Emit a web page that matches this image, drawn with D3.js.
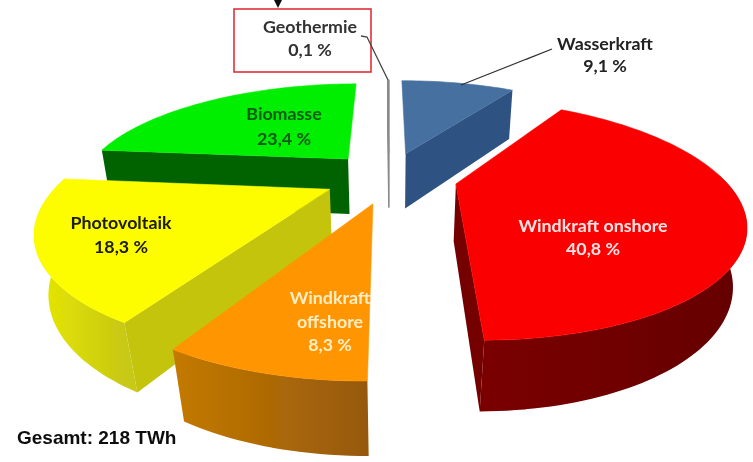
<!DOCTYPE html>
<html><head><meta charset="utf-8">
<script src="https://cdn.jsdelivr.net/npm/d3@7"></script>
<style>html,body{margin:0;padding:0;background:#fff}svg{display:block}</style>
</head><body><svg id="c" width="753" height="462"></svg>
<script>
// data
const names = ["Wasserkraft","Windkraft onshore","Windkraft offshore","Photovoltaik","Biomasse","Geothermie"];
const shares = [9.1,40.8,8.3,18.3,23.4,0.1];
const shareLabels = ["9,1 %","40,8 %","8,3 %","18,3 %","23,4 %","0,1 %"];
const totalLabel = "Gesamt: 218 TWh";
// style
const topCols  = ["#44709f","#fb0000","#ff9500","#fdfd00","#00ee00","#8a8a8a"];
const sideCols = ["#2f5382","#740000","#b06c00","#c4c410","#006400","#8a8a8a"];
const rimFrom  = ["#2f5382","#7a0000","#c47a00","#e8e800","#006400","#8a8a8a"];
const rimTo    = ["#2f5382","#640000","#96590c","#c8c814","#006400","#8a8a8a"];
const explode  = [.243,.23,.243,.243,.243,.243];
const widthK   = [.97,.97,.97,.97,.975,1];
const nudgeX   = [-3,3,0,0,0,-2];
const textCols = ["#222","#fbe3e3","#ffeec4","#1a1a00","#0a5a14","#333"];
const labelLines = [["Wasserkraft"],["Windkraft onshore"],["Windkraft","offshore"],["Photovoltaik"],["Biomasse"],["Geothermie"]];
const labelAt = [[605,50,22],[593,232,23],[330,304,23.5],[121,229,24],[284,120,25],[310,33,23]];

const cx=391, cy=177, f=275, g=106, persp=.29;
const svg=d3.select("#c");
const defs=svg.append("defs");
const soft=defs.append("filter").attr("id","soft").attr("x","-5%").attr("y","-5%").attr("width","110%").attr("height","110%");
soft.append("feGaussianBlur").attr("stdDeviation",.7);
const root=svg.append("g").attr("filter","url(#soft)");

function project(X,Y){const w=1+persp*Y;return {x:cx+f*X/w,y:cy-g*Y/w,w};}
function topPt(p){const t=project(p[0],p[1]);return [t.x,t.y];}
function botPt(p){const t=project(p[0],p[1]);return [cx+(t.x-cx)*(1-.035/t.w),t.y+24+32.7/t.w];}
const pathLine=d3.line();

const arcs=d3.pie().sort(null).startAngle(0).endAngle(2*Math.PI).value((d,i)=>shares[i])(names);
const slices=arcs.map((a,i)=>{
  const mid=(a.startAngle+a.endAngle)/2, e=explode[i];
  const apex=[e*Math.sin(mid),e*Math.cos(mid)];
  const n=Math.max(2,Math.ceil((a.endAngle-a.startAngle)*40));
  const thetas=d3.range(n+1).map(k=>a.startAngle+(a.endAngle-a.startAngle)*k/n);
  const pt=th=>[apex[0]+widthK[i]*Math.sin(th),apex[1]+Math.cos(th)];
  return {i,apex,a,rim:thetas.map(pt),front:thetas.filter(th=>Math.cos(th)<.1).map(pt)};
}).sort((a,b)=>b.apex[1]-a.apex[1]);

slices.forEach(s=>{
  const i=s.i, rimT=s.rim.map(topPt);
  const xs=rimT.map(p=>p[0]), gid="rim"+i;
  const gr=defs.append("linearGradient").attr("id",gid).attr("gradientUnits","userSpaceOnUse")
    .attr("x1",d3.min(xs)).attr("x2",d3.max(xs)).attr("y1",0).attr("y2",0);
  gr.append("stop").attr("offset",0).attr("stop-color",rimFrom[i]);
  gr.append("stop").attr("offset",1).attr("stop-color",rimTo[i]);
  const G=root.append("g").attr("transform",`translate(${nudgeX[i]},0)`);
  // side walls facing the viewer only (the thin Geothermie sliver keeps both)
  const walls=[];
  if(Math.sin(s.a.startAngle)<0||i===5) walls.push(s.rim[0]);
  if(Math.sin(s.a.endAngle)>1e-6||i===5) walls.push(s.rim[s.rim.length-1]);
  walls.forEach(end=>{
    const q=[topPt(s.apex),topPt(end),botPt(end),botPt(s.apex)];
    G.append("path").attr("d",pathLine(q)+"Z").attr("fill",sideCols[i])
      .attr("stroke",i===5?"#8a8a8a":"none").attr("stroke-width",i===5?1.2:0);
  });
  // outer wall, only where it faces the viewer
  if(s.front.length>1){
    G.append("path").attr("d",pathLine(s.front.map(topPt).concat(s.front.map(botPt).reverse()))+"Z").attr("fill",`url(#${gid})`);
  }
  // top face
  G.append("path").attr("d",pathLine([topPt(s.apex)].concat(rimT))+"Z").attr("fill",topCols[i])
    .attr("stroke",i===5?"#8a8a8a":topCols[i]).attr("stroke-width",i===5?1.2:.6);
});

// red box
root.append("rect").attr("x",234).attr("y",9).attr("width",137).attr("height",63)
  .attr("fill","none").attr("stroke","#e2303a").attr("stroke-width",1.6);
// arrow
root.append("path").attr("d",pathLine([[274,0],[278,8],[282,0]])+"Z").attr("fill","#111");
// leader lines
root.append("path").attr("d",pathLine([[361,36],[367,37],[388,80]])).attr("fill","none").attr("stroke","#444").attr("stroke-width",1.3);
root.append("path").attr("d",pathLine([[461,85],[552,49]])).attr("fill","none").attr("stroke","#333").attr("stroke-width",1.3);

// labels
names.forEach((n,i)=>{
  const [x,y,dy]=labelAt[i];
  const lines=labelLines[i].concat(shareLabels[i]);
  lines.forEach((t,k)=>{
    root.append("text").attr("x",x).attr("y",y+k*dy).attr("text-anchor","middle")
      .attr("font-family","Lato, 'Open Sans', sans-serif").attr("font-weight",700).attr("font-size",17.8)
      .attr("fill",textCols[i]).text(t);
  });
});
root.append("text").attr("x",17).attr("y",444).attr("font-family","'Liberation Sans', Arial, sans-serif")
  .attr("font-weight",700).attr("font-size",19).attr("fill","#111").text(totalLabel);
</script></body></html>
